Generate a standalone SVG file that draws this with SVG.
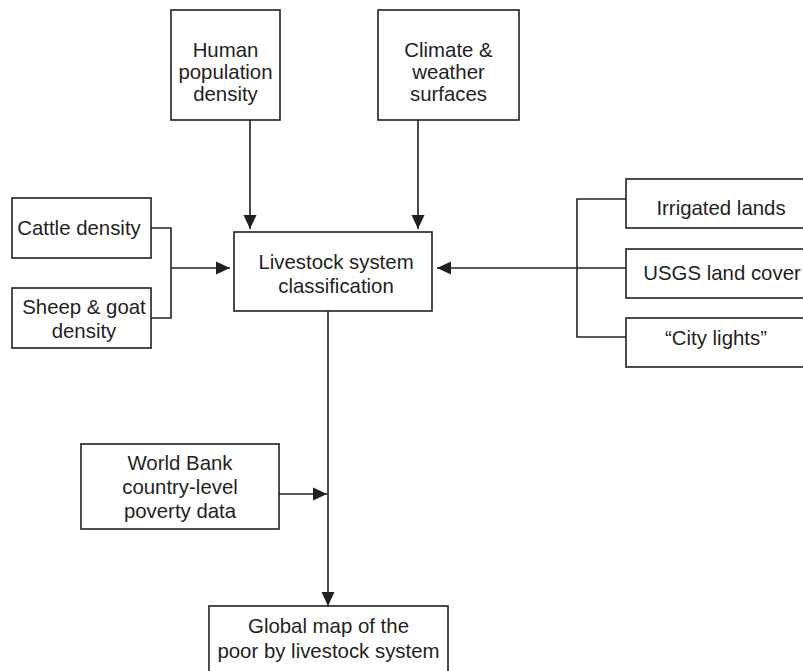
<svg xmlns="http://www.w3.org/2000/svg" width="803" height="671" viewBox="0 0 803 671">
<defs>
<style>
.box{fill:#fff;stroke:#231f20;stroke-width:1.6}
.t{font-family:"Liberation Sans",Arial,sans-serif;font-size:20.4px;fill:#231f20;text-anchor:middle}
.c{fill:none;stroke:#231f20;stroke-width:1.6}
</style>
<marker id="ah" markerUnits="userSpaceOnUse" markerWidth="14" markerHeight="14" viewBox="0 0 14 14" refX="14" refY="7" orient="auto">
<path d="M0,0.5 L14,7 L0,13.5 Z" fill="#231f20"/>
</marker>
</defs>
<rect width="803" height="671" fill="#fff"/>
<g id="connectors">
<line class="c" x1="250" y1="120" x2="250" y2="229" marker-end="url(#ah)"/>
<line class="c" x1="418" y1="120" x2="418" y2="229" marker-end="url(#ah)"/>
<polyline class="c" points="151,228 171,228 171,318 151,318"/>
<line class="c" x1="171" y1="268" x2="230" y2="268" marker-end="url(#ah)"/>
<polyline class="c" points="626,199 577,199 577,337 626,337"/>
<line class="c" x1="626" y1="268" x2="437" y2="268" marker-end="url(#ah)"/>
<line class="c" x1="328" y1="311" x2="328" y2="606" marker-end="url(#ah)"/>
<line class="c" x1="279" y1="494" x2="327" y2="494" marker-end="url(#ah)"/>
</g>
<g id="human">
<rect class="box" x="171" y="10" width="109" height="110"/>
<text class="t" x="225.5" y="57">Human</text>
<text class="t" x="225.5" y="79">population</text>
<text class="t" x="225.5" y="101">density</text>
</g>
<g id="climate">
<rect class="box" x="378" y="10" width="141" height="110"/>
<text class="t" x="448.5" y="57">Climate &amp;</text>
<text class="t" x="448.5" y="79">weather</text>
<text class="t" x="448.5" y="101">surfaces</text>
</g>
<g id="cattle">
<rect class="box" x="12" y="198" width="139" height="60"/>
<text class="t" x="79" y="235">Cattle density</text>
</g>
<g id="sheep">
<rect class="box" x="12" y="288" width="139" height="60"/>
<text class="t" x="84" y="314">Sheep &amp; goat</text>
<text class="t" x="84" y="338">density</text>
</g>
<g id="livestock">
<rect class="box" x="234" y="232" width="198" height="79"/>
<text class="t" x="336" y="269">Livestock system</text>
<text class="t" x="336" y="293">classification</text>
</g>
<g id="irrigated">
<rect class="box" x="626" y="179" width="180" height="49"/>
<text class="t" x="721" y="215">Irrigated lands</text>
</g>
<g id="usgs">
<rect class="box" x="626" y="249" width="180" height="49"/>
<text class="t" x="722" y="280">USGS land cover</text>
</g>
<g id="citylights">
<rect class="box" x="626" y="318" width="180" height="49"/>
<text class="t" x="716" y="345">“City lights”</text>
</g>
<g id="worldbank">
<rect class="box" x="81" y="444" width="198" height="85"/>
<text class="t" x="180" y="470">World Bank</text>
<text class="t" x="180" y="494">country-level</text>
<text class="t" x="180" y="518">poverty data</text>
</g>
<g id="globalmap">
<rect class="box" x="209" y="606" width="239" height="70"/>
<text class="t" x="328.5" y="633">Global map of the</text>
<text class="t" x="328.5" y="658">poor by livestock system</text>
</g>
</svg>
